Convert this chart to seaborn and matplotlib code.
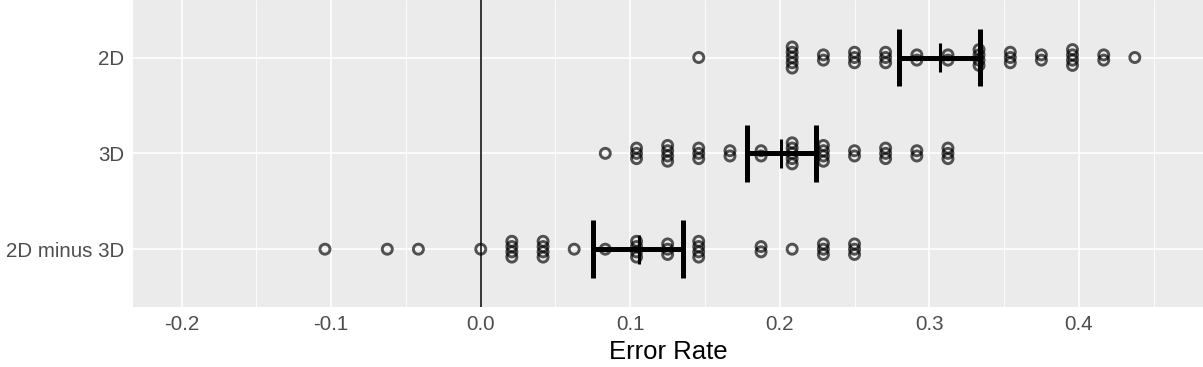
import numpy as np
import pandas as pd
import seaborn as sns
import matplotlib.pyplot as plt
from matplotlib.ticker import MultipleLocator

# === Data ===
conditions = ["2D", "3D", "2D minus 3D"]

rates_2d = [0.1458, 0.2083, 0.2292, 0.2500, 0.2708, 0.2917, 0.3125,
            0.3333, 0.3542, 0.3750, 0.3958, 0.4167, 0.4375]
counts_2d = [1, 5, 2, 3, 3, 2, 2, 4, 3, 2, 4, 2, 1]

rates_3d = [0.0833, 0.1042, 0.1250, 0.1458, 0.1667, 0.1875, 0.2083,
            0.2292, 0.2500, 0.2708, 0.2917, 0.3125]
counts_3d = [1, 3, 4, 3, 2, 2, 5, 4, 2, 3, 2, 3]

rates_diff = [-0.1042, -0.0625, -0.0417, 0.0, 0.0208, 0.0417, 0.0625,
              0.0833, 0.1042, 0.1250, 0.1458, 0.1875, 0.2083, 0.2292, 0.2500]
counts_diff = [1, 1, 1, 1, 4, 4, 1, 1, 4, 3, 4, 2, 1, 3, 3]

means = [0.307, 0.2007, 0.1056]
ci_low = [0.280, 0.178, 0.0753]
ci_high = [0.334, 0.2244, 0.1351]

# === Layout
row_pos = {"2D": 3, "3D": 2, "2D minus 3D": 1}
STACK_STEP = 0.055

rows = []
for cond, rates, counts in [("2D", rates_2d, counts_2d),
                            ("3D", rates_3d, counts_3d),
                            ("2D minus 3D", rates_diff, counts_diff)]:
    for r, n in zip(rates, counts):
        for i in range(n):
            off = (i - (n - 1) / 2) * STACK_STEP
            rows.append({"condition": cond, "rate": r, "y": row_pos[cond] + off})
df = pd.DataFrame(rows)

sns.set_theme(style="darkgrid", rc={
    "axes.facecolor": "#EBEBEB",
    "grid.color": "white",
    "axes.edgecolor": "none",
})
plt.rcParams["font.family"] = ["Liberation Sans", "DejaVu Sans"]

W, H = 1203, 367
fig = plt.figure(figsize=(W / 100, H / 100), dpi=100)
ax = fig.add_axes([133 / W, 1 - 306.7 / H, 1070 / W, 306.7 / H])

ax.set_xlim(-0.2326, 0.4831)
ax.set_ylim(0.4, 3.6)

ax.xaxis.set_minor_locator(MultipleLocator(0.05))
ax.set_yticks([row_pos[c] for c in conditions])
ax.set_yticklabels(conditions)
ax.set_xticks([-0.2, -0.1, 0.0, 0.1, 0.2, 0.3, 0.4])
ax.set_xticklabels(["-0.2", "-0.1", "0.0", "0.1", "0.2", "0.3", "0.4"])

ax.grid(which="major", color="white", linewidth=1.2)
ax.grid(which="minor", axis="x", color="white", linewidth=0.6)
ax.set_axisbelow(True)
for s in ax.spines.values():
    s.set_visible(False)

ax.tick_params(axis="both", which="major", length=3.3, width=1.0, color="#333333",
               labelsize=14.8, labelcolor="#4D4D4D", pad=3)
ax.tick_params(axis="both", which="minor", length=0)

ax.axvline(0, color="black", linewidth=1.1, zorder=2)

sns.scatterplot(data=df, x="rate", y="y", ax=ax, marker="o", s=52,
                facecolors="none", edgecolor="black", linewidth=2.1,
                alpha=0.66, zorder=3, legend=False)

# mean and 95% CI bars
for cond, m, lo, hi in zip(conditions, means, ci_low, ci_high):
    y = row_pos[cond]
    ax.hlines(y, lo, hi, color="black", linewidth=3.6, zorder=4)
    ax.vlines([lo, hi], y - 0.3, y + 0.3, color="black", linewidth=3.6, zorder=4)
    ax.vlines(m, y - 0.15, y + 0.15, color="black", linewidth=2.2, zorder=4)

ax.set_xlabel("Error Rate", fontsize=18.5, color="black", labelpad=4)
ax.set_ylabel("")

plt.savefig("out.png", dpi=100)
